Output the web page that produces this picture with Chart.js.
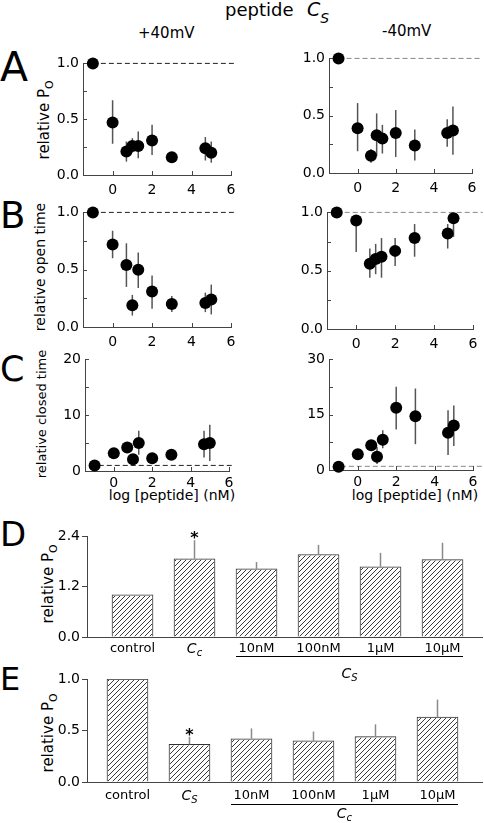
<!DOCTYPE html>
<html><head><meta charset="utf-8">
<script src="https://cdn.jsdelivr.net/npm/chart.js@4.4.1/dist/chart.umd.min.js"></script>
<style>
html,body{margin:0;padding:0;background:#fff}
body{position:relative;width:484px;height:823px;overflow:hidden;font-family:"DejaVu Sans",sans-serif;color:#000}
canvas{position:absolute}
.t{position:absolute;white-space:nowrap;line-height:1}
.c{transform:translate(-50%,-50%)}
.r{transform:translate(-50%,-50%) rotate(-90deg)}
.s{position:relative;font-size:72%;top:0.35em}
</style></head><body>
<div class="t" style="left:225px;top:1px;font-size:18px">peptide</div>
<div class="t" style="left:307px;top:0px;font-size:19px;font-style:italic">C<span style="position:relative;font-size:14px;top:7px">S</span></div>
<div class="t" style="left:138px;top:26px;font-size:15px">+40mV</div>
<div class="t" style="left:382px;top:24px;font-size:15px">-40mV</div>
<div class="t" style="left:0;top:47px;font-size:41px">A</div>
<div class="t" style="left:0;top:197px;font-size:37px">B</div>
<div class="t" style="left:0;top:352px;font-size:35px">C</div>
<div class="t" style="left:0;top:517px;font-size:34px">D</div>
<div class="t" style="left:0;top:663px;font-size:32px">E</div>
<div class="t r" style="left:44px;top:120px;font-size:15px">relative P<span class="s">O</span></div>
<div class="t r" style="left:40px;top:267px;font-size:14px">relative open time</div>
<div class="t r" style="left:41px;top:414px;font-size:13px">relative closed time</div>
<div class="t r" style="left:48px;top:584px;font-size:15px">relative P<span class="s">O</span></div>
<div class="t r" style="left:48px;top:733px;font-size:15px">relative P<span class="s">O</span></div>
<div class="t c" style="left:172px;top:495px;font-size:14px">log [peptide] (nM)</div>
<div class="t c" style="left:415px;top:495px;font-size:14px">log [peptide] (nM)</div>
<script>
// ---------------- data ----------------
const logConc = [-1, 0, 0.7, 1, 1.3, 2, 3, 4.7, 5];
const xTicks = [0, 2, 4, 6];
const yTicksAB = [0, 0.5, 1.0];
const yTicksCpos = [0, 10, 20];
const yTicksCneg = [0, 15, 30];

const poPos   = [1.0, 0.47, 0.21, 0.26, 0.26, 0.31, 0.16, 0.24, 0.20];
const poPosHi = [1.0, 0.67, 0.30, 0.33, 0.39, 0.45, 0.17, 0.34, 0.30];
const poPosLo = [1.0, 0.28, 0.12, 0.20, 0.15, 0.18, 0.15, 0.13, 0.11];
const poNeg   = [1.0, 0.39, 0.15, 0.33, 0.30, 0.35, 0.24, 0.35, 0.37];
const poNegHi = [1.0, 0.61, 0.21, 0.52, 0.42, 0.55, 0.38, 0.47, 0.58];
const poNegLo = [1.0, 0.19, 0.09, 0.15, 0.17, 0.14, 0.11, 0.23, 0.16];
const openPos   = [1.0, 0.72, 0.54, 0.19, 0.50, 0.31, 0.20, 0.21, 0.24];
const openPosHi = [1.0, 0.84, 0.73, 0.28, 0.65, 0.45, 0.27, 0.30, 0.37];
const openPosLo = [1.0, 0.60, 0.35, 0.10, 0.34, 0.16, 0.13, 0.13, 0.11];
const openNeg   = [1.0, 0.93, 0.56, 0.60, 0.62, 0.67, 0.78, 0.82, 0.95];
const openNegHi = [1.0, 0.96, 0.69, 0.73, 0.78, 0.78, 0.90, 0.90, 0.99];
const openNegLo = [1.0, 0.66, 0.44, 0.47, 0.44, 0.54, 0.62, 0.69, 0.79];
const closedPos   = [1.0, 3.2, 4.2, 2.1, 5.0, 2.3, 2.9, 4.8, 5.0];
const closedPosHi = [1.0, 3.2, 4.2, 2.1, 7.2, 2.3, 2.9, 7.2, 8.3];
const closedPosLo = [1.0, 3.2, 4.2, 2.1, 2.9, 2.3, 2.9, 2.4, 1.8];
const closedNeg   = [0.9, 4.3, 6.7, 3.6, 8.2, 16.9, 14.6, 10.1, 12.1];
const closedNegHi = [0.9, 4.3, 6.7, 6.3, 10.8, 22.6, 22.1, 16.2, 17.5];
const closedNegLo = [0.9, 4.3, 6.7, 1.6, 5.9, 11.0, 7.0, 4.1, 6.5];

const barLabelsD = ['control', 'Cc', '10nM', '100nM', '1\u00B5M', '10\u00B5M'];
const barValuesD = [1.0, 1.86, 1.62, 1.96, 1.67, 1.84];
const barErrHiD  = [1.0, 2.30, 1.78, 2.19, 2.00, 2.24];
const yTicksD = [0, 1.2, 2.4];
const groupLabelD = 'Cs';

const barLabelsE = ['control', 'Cs', '10nM', '100nM', '1\u00B5M', '10\u00B5M'];
const barValuesE = [1.0, 0.365, 0.42, 0.40, 0.44, 0.63];
const barErrHiE  = [1.0, 0.44, 0.52, 0.49, 0.56, 0.80];
const yTicksE = [0, 0.5, 1.0];
const groupLabelE = 'Cc';

const italicLabels = { Cc: ['C', 'c'], Cs: ['C', 'S'] };

// ---------------- helpers ----------------
Chart.defaults.font.family = '"DejaVu Sans"';
Chart.defaults.color = '#000';
const AXIS = '#444';

function makeCanvas(p, YW, PT, PR, XH) {
  const cv = document.createElement('canvas');
  const W = (p.r - p.l) + YW + PR, H = (p.b - p.t) + PT + XH;
  cv.width = W; cv.height = H;
  cv.style.width = W + 'px'; cv.style.height = H + 'px';
  cv.style.left = (p.l - YW) + 'px'; cv.style.top = (p.t - PT) + 'px';
  document.body.appendChild(cv);
  return cv;
}

const errPlugin = {
  id: 'err',
  beforeDatasetsDraw(chart) {
    const ctx = chart.ctx, xs = chart.scales.x, ys = chart.scales.y;
    chart.data.datasets.forEach(ds => {
      if (!ds.errHi) return;
      ctx.save(); ctx.strokeStyle = '#555'; ctx.lineWidth = 1.5;
      ds.data.forEach((p, i) => {
        const lo = ds.errLo[i], hi = ds.errHi[i];
        if (hi === lo) return;
        const x = xs.getPixelForValue(p.x);
        ctx.beginPath(); ctx.moveTo(x, ys.getPixelForValue(lo)); ctx.lineTo(x, ys.getPixelForValue(hi)); ctx.stroke();
      });
      ctx.restore();
    });
  }
};

const inTicks = {
  id: 'inTicks',
  afterDraw(chart) {
    const ctx = chart.ctx, a = chart.chartArea, xs = chart.scales.x, ys = chart.scales.y;
    ctx.save(); ctx.strokeStyle = AXIS; ctx.lineWidth = 1; ctx.beginPath();
    const yt = ys.ticks.map(t => t.value);
    for (let i = 0; i < yt.length; i++) {
      const vals = [yt[i]];
      if (i < yt.length - 1) vals.push((yt[i] + yt[i + 1]) / 2);
      vals.forEach(v => { const y = Math.round(ys.getPixelForValue(v)) + 0.5; ctx.moveTo(a.left, y); ctx.lineTo(a.left + 4, y); });
    }
    xs.ticks.forEach(t => { const x = Math.round(xs.getPixelForValue(t.value)) + 0.5; ctx.moveTo(x, a.bottom); ctx.lineTo(x, a.bottom - 4); });
    ctx.stroke(); ctx.restore();
  }
};

function scatterPanel(p, mean, lo, hi, yMax, yTicks, decimals, dashFrom, dashTo, dashColor, xPad) {
  const YW = 44, PT = 12, PR = 12, XH = 26;
  const cv = makeCanvas(p, YW, PT, PR, XH);
  new Chart(cv, {
    type: 'scatter',
    data: { datasets: [
      { data: logConc.map((x, i) => ({ x, y: mean[i] })), errLo: lo, errHi: hi,
        pointRadius: 6, pointHoverRadius: 6, backgroundColor: '#000', borderWidth: 0, clip: false },
      { type: 'line', data: [{ x: dashFrom, y: 1 }, { x: dashTo, y: 1 }], showLine: true,
        borderColor: dashColor, borderWidth: 1, borderDash: [5, 3], pointRadius: 0, clip: false }
    ]},
    options: {
      responsive: false, animation: false, devicePixelRatio: 1, events: [],
      layout: { padding: { top: PT, right: PR, left: 0, bottom: 0 } },
      plugins: { legend: { display: false }, tooltip: { enabled: false } },
      scales: {
        x: { type: 'linear', min: -1.5, max: 6,
          afterFit: s => { s.height = XH; },
          afterBuildTicks: s => { s.ticks = xTicks.map(v => ({ value: v })); },
          grid: { display: false, drawTicks: false }, border: { color: AXIS, width: 1 },
          ticks: { font: { size: 14 }, padding: xPad, autoSkip: false, maxRotation: 0, callback: v => String(v) } },
        y: { type: 'linear', min: 0, max: yMax,
          afterFit: s => { s.width = YW; },
          afterBuildTicks: s => { s.ticks = yTicks.map(v => ({ value: v })); },
          grid: { display: false, drawTicks: false }, border: { color: AXIS, width: 1 },
          ticks: { font: { size: 14 }, padding: 4, autoSkip: false, callback: v => v.toFixed(decimals) } }
      }
    },
    plugins: [errPlugin, inTicks]
  });
}

function drawItalic(ctx, key, cx, base) {
  const parts = italicLabels[key];
  ctx.font = 'italic 14px "DejaVu Sans"';
  const w1 = ctx.measureText(parts[0]).width;
  ctx.font = 'italic 10px "DejaVu Sans"';
  const w2 = ctx.measureText(parts[1]).width;
  const x0 = cx - (w1 + w2) / 2;
  ctx.textAlign = 'left'; ctx.textBaseline = 'alphabetic'; ctx.fillStyle = '#000';
  ctx.font = 'italic 14px "DejaVu Sans"'; ctx.fillText(parts[0], x0, base);
  ctx.font = 'italic 10px "DejaVu Sans"'; ctx.fillText(parts[1], x0 + w1, base + 3);
}

const barDeco = {
  id: 'barDeco',
  afterDatasetsDraw(chart) {
    // diagonal hatch inside every bar, clipped to the bar rectangle
    const ctx = chart.ctx, meta = chart.getDatasetMeta(0);
    meta.data.forEach(el => {
      const { x, y, base, width } = el.getProps(['x', 'y', 'base', 'width'], true);
      const l = x - width / 2 + 1, r = x + width / 2 - 1, t = y + 1, b = base;
      ctx.save();
      ctx.beginPath(); ctx.rect(l, t, r - l, b - t); ctx.clip();
      ctx.strokeStyle = '#3a3a3a'; ctx.lineWidth = 1;
      ctx.beginPath();
      const start = Math.floor((l + t) / 5) * 5, end = r + b;
      for (let k = start; k <= end; k += 5) { ctx.moveTo(k - b, b); ctx.lineTo(k - t + 2, t - 2); }
      ctx.stroke();
      ctx.restore();
    });
  },
  afterDraw(chart, args, o) {
    const ctx = chart.ctx, a = chart.chartArea, xs = chart.scales.x, ys = chart.scales.y;
    const ds = chart.data.datasets[0], meta = chart.getDatasetMeta(0);
    ctx.save();
    ctx.strokeStyle = '#8a8a8a'; ctx.lineWidth = 1.5;
    ds.data.forEach((p, i) => {
      if (ds.errHi[i] <= p.y) return;
      const x = xs.getPixelForValue(p.x);
      ctx.beginPath(); ctx.moveTo(x, ys.getPixelForValue(p.y)); ctx.lineTo(x, ys.getPixelForValue(ds.errHi[i])); ctx.stroke();
    });
    // significance star
    const si = o.star;
    ctx.fillStyle = '#000'; ctx.font = 'bold 16px "DejaVu Sans"'; ctx.textAlign = 'center'; ctx.textBaseline = 'alphabetic';
    ctx.fillText('*', xs.getPixelForValue(ds.data[si].x), ys.getPixelForValue(ds.errHi[si]) + 3);
    // italic tick labels
    o.labels.forEach((lab, i) => { if (italicLabels[lab]) drawItalic(ctx, lab, xs.getPixelForValue(ds.data[i].x), a.bottom + o.labelBase); });
    // group line + label
    const e1 = meta.data[o.from], e2 = meta.data[o.to];
    const x1 = e1.x - e1.width / 2, x2 = e2.x + e2.width / 2;
    ctx.strokeStyle = '#000'; ctx.lineWidth = 1;
    const ly = Math.round(a.bottom + o.lineOff) + 0.5;
    ctx.beginPath(); ctx.moveTo(x1, ly); ctx.lineTo(x2, ly); ctx.stroke();
    drawItalic(ctx, o.group, (e1.x + e2.x) / 2, a.bottom + o.groupBase);
    ctx.restore();
  }
};

function barPanel(p, labels, values, errHi, yMax, yTicks, xMin, xMax, XH, deco) {
  const YW = 45, PT = 12, PR = 2;
  const cv = makeCanvas(p, YW, PT, PR, XH);
  new Chart(cv, {
    type: 'bar',
    data: { datasets: [{ data: values.map((v, i) => ({ x: i + 1, y: v })), errHi: errHi,
      backgroundColor: '#ffffff', borderColor: '#333', borderWidth: 1, barThickness: 41 }] },
    options: {
      responsive: false, animation: false, devicePixelRatio: 1, events: [],
      layout: { padding: { top: PT, right: PR, left: 0, bottom: 0 } },
      plugins: { legend: { display: false }, tooltip: { enabled: false }, barDeco: deco },
      scales: {
        x: { type: 'linear', min: xMin, max: xMax, offset: false,
          afterFit: s => { s.height = XH; },
          afterBuildTicks: s => { s.ticks = labels.map((l, i) => ({ value: i + 1 })); },
          grid: { display: false, drawTicks: false, offset: false }, border: { color: AXIS, width: 1 },
          ticks: { font: { size: 13 }, padding: deco.tickPad, autoSkip: false, maxRotation: 0,
            callback: v => { const l = labels[v - 1]; return italicLabels[l] ? '' : l; } } },
        y: { type: 'linear', min: 0, max: yMax,
          afterFit: s => { s.width = YW; },
          afterBuildTicks: s => { s.ticks = yTicks.map(v => ({ value: v })); },
          grid: { display: true, drawOnChartArea: false, drawTicks: true, tickLength: 5, color: AXIS },
          border: { color: AXIS, width: 1 },
          ticks: { font: { size: 14 }, padding: 2, autoSkip: false, callback: v => v.toFixed(1) } }
      }
    },
    plugins: [barDeco]
  });
}

// ---------------- panels ----------------
scatterPanel({ l: 83, r: 231, t: 63, b: 175 }, poPos, poPosLo, poPosHi, 1.0, yTicksAB, 1, -1, 6.2, '#222', 7);
scatterPanel({ l: 329, r: 472, t: 58, b: 173 }, poNeg, poNegLo, poNegHi, 1.0, yTicksAB, 1, -1, 6.5, '#888', 7);
scatterPanel({ l: 83, r: 231, t: 212, b: 327 }, openPos, openPosLo, openPosHi, 1.0, yTicksAB, 1, -1, 6.2, '#222', 7);
scatterPanel({ l: 327, r: 473, t: 212, b: 329 }, openNeg, openNegLo, openNegHi, 1.0, yTicksAB, 1, -1, 6.5, '#888', 7);
scatterPanel({ l: 85, r: 229, t: 359, b: 471 }, closedPos, closedPosLo, closedPosHi, 20, yTicksCpos, 0, -1.2, 6.2, '#222', 4);
scatterPanel({ l: 329, r: 473, t: 359, b: 470 }, closedNeg, closedNegLo, closedNegHi, 30, yTicksCneg, 0, -1.3, 6.5, '#888', 4);

barPanel({ l: 87, r: 482, t: 536, b: 637 }, barLabelsD, barValuesD, barErrHiD, 2.4, yTicksD, 0.266, 6.637, 46,
  { star: 1, labels: barLabelsD, labelBase: 16, from: 2, to: 5, lineOff: 18.5, group: groupLabelD, groupBase: 41, tickPad: 4 });
barPanel({ l: 87, r: 482, t: 679, b: 782 }, barLabelsE, barValuesE, barErrHiE, 1.0, yTicksE, 0.347, 6.718, 41,
  { star: 1, labels: barLabelsE, labelBase: 18, from: 2, to: 5, lineOff: 21.5, group: groupLabelE, groupBase: 36, tickPad: 6 });
</script>
</body></html>
